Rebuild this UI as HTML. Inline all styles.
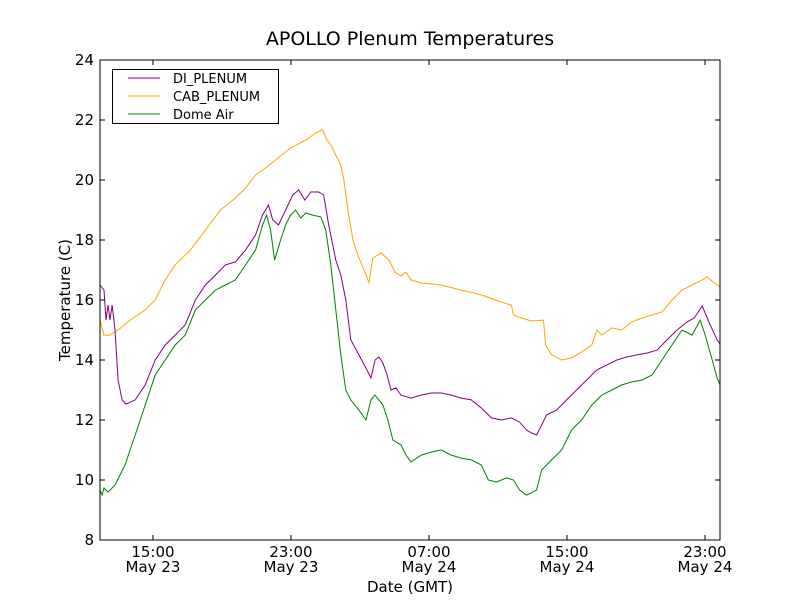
<!DOCTYPE html>
<html><head><meta charset="utf-8"><style>
html,body{margin:0;padding:0;background:#fff;}
svg text{font-family:"DejaVu Sans","Liberation Sans",sans-serif;fill:#000;}
</style></head><body>
<svg id="chart" width="800" height="600" xmlns="http://www.w3.org/2000/svg">
<rect width="800" height="600" fill="#fff"/>
<text x="410" y="45" font-size="19" text-anchor="middle">APOLLO Plenum Temperatures</text>
<text x="410" y="592" font-size="15" text-anchor="middle">Date (GMT)</text>
<text transform="translate(70,300) rotate(-90)" font-size="15" text-anchor="middle">Temperature (C)</text>
<g id="plot"></g>
<g id="legend">
<rect x="112.5" y="69.5" width="166" height="54" fill="#fff" stroke="#000" stroke-width="1"/>
<line x1="128" y1="78" x2="160" y2="78" stroke="#800080" stroke-width="1"/>
<text x="173" y="83" font-size="13">DI_PLENUM</text>
<line x1="128" y1="96" x2="160" y2="96" stroke="#ffa500" stroke-width="1"/>
<text x="173" y="101" font-size="13">CAB_PLENUM</text>
<line x1="128" y1="114" x2="160" y2="114" stroke="#008000" stroke-width="1"/>
<text x="173" y="119" font-size="13">Dome Air</text>
</g>
</svg>
<script>
const xTickHours = [15, 23, 31, 39, 47];
const xTickTimes = ["15:00","23:00","07:00","15:00","23:00"];
const xTickDates = ["May 23","May 23","May 24","May 24","May 24"];
const yTicks = [8,10,12,14,16,18,20,22,24];
const timeOffset = 0.53;

const diTime = [11.40,11.63,11.75,11.87,11.98,12.10,12.27,12.45,12.68,12.91,13.44,14.02,14.60,15.18,15.76,16.34,16.93,17.51,18.09,18.67,19.25,19.84,20.42,20.82,21.17,21.41,21.75,22.16,22.57,22.92,23.27,23.62,24.08,24.37,24.66,25.07,25.36,25.65,25.94,26.41,26.82,27.11,27.34,27.57,27.80,28.04,28.27,28.56,28.85,29.43,30.02,30.60,31.18,31.76,32.34,32.92,33.51,34.09,34.67,35.25,35.72,36.12,36.41,36.71,37.00,37.29,37.87,38.45,39.03,39.61,40.20,40.78,41.36,41.94,42.52,43.10,43.69,44.27,44.85,45.43,45.84,46.31,46.77,47.17,47.47];
const diTemp = [16.5,16.33,15.33,15.83,15.33,15.83,15.0,13.33,12.67,12.53,12.67,13.17,14.0,14.5,14.83,15.17,16.0,16.5,16.83,17.17,17.27,17.67,18.17,18.83,19.17,18.67,18.5,19.0,19.5,19.67,19.33,19.6,19.6,19.5,18.5,17.33,16.83,16.0,14.67,14.17,13.73,13.4,14.0,14.1,13.9,13.5,13.0,13.07,12.83,12.73,12.83,12.9,12.9,12.83,12.73,12.67,12.4,12.07,12.0,12.07,11.93,11.67,11.57,11.5,11.83,12.17,12.33,12.67,13.0,13.33,13.67,13.83,14.0,14.1,14.17,14.23,14.33,14.67,15.0,15.27,15.4,15.8,15.17,14.67,14.43];

const cabTime = [11.40,11.63,11.98,12.45,13.15,14.02,14.60,15.18,15.76,16.64,17.51,18.38,19.25,19.84,20.42,21.00,21.58,22.45,23.33,23.91,24.31,24.55,24.78,25.07,25.36,25.54,25.77,26.06,26.41,26.76,26.99,27.22,27.69,28.15,28.50,28.85,29.14,29.43,30.02,31.18,32.34,33.51,34.67,35.25,35.37,35.83,36.41,37.11,37.23,37.58,38.16,38.74,39.32,39.91,40.20,40.49,41.07,41.65,42.23,42.81,43.40,43.98,44.56,45.14,45.72,46.31,46.60,47.00,47.47];
const cabTemp = [15.33,14.83,14.83,15.0,15.33,15.67,16.0,16.67,17.17,17.67,18.33,19.0,19.4,19.73,20.17,20.4,20.67,21.07,21.33,21.57,21.67,21.33,21.17,20.83,20.5,20.0,19.0,18.0,17.4,16.93,16.57,17.4,17.57,17.33,16.93,16.8,16.93,16.67,16.57,16.5,16.33,16.17,15.93,15.83,15.5,15.4,15.3,15.33,14.5,14.17,14.0,14.07,14.27,14.5,15.0,14.83,15.07,15.0,15.27,15.4,15.5,15.6,16.0,16.33,16.5,16.67,16.77,16.57,16.4];

const domeTime = [11.40,11.52,11.63,11.87,12.27,12.85,13.44,14.02,14.60,15.18,15.76,16.34,16.93,17.51,18.09,18.67,19.25,19.84,20.42,20.82,21.06,21.29,21.52,21.87,22.16,22.45,22.74,23.04,23.33,23.73,24.20,24.49,24.78,25.07,25.36,25.65,25.94,26.41,26.82,27.11,27.34,27.57,27.80,28.09,28.38,28.85,29.14,29.43,30.02,30.60,31.18,31.76,32.34,32.92,33.51,33.91,34.38,34.96,35.37,35.72,36.12,36.41,36.71,37.00,37.58,38.16,38.74,39.32,39.91,40.49,41.07,41.65,42.23,42.81,43.40,43.98,44.56,45.14,45.72,46.19,46.48,46.89,47.17,47.47];
const domeTemp = [9.67,9.5,9.73,9.6,9.83,10.5,11.5,12.5,13.5,14.0,14.5,14.83,15.67,16.0,16.33,16.5,16.67,17.17,17.67,18.5,18.83,18.33,17.33,18.0,18.5,18.83,19.0,18.73,18.9,18.83,18.77,18.33,17.17,15.67,14.17,13.0,12.67,12.33,12.0,12.67,12.83,12.67,12.5,12.0,11.33,11.17,10.83,10.6,10.83,10.93,11.0,10.83,10.73,10.67,10.5,10.0,9.93,10.07,10.0,9.67,9.5,9.57,9.67,10.33,10.67,11.0,11.67,12.0,12.5,12.83,13.0,13.17,13.27,13.33,13.5,14.0,14.5,15.0,14.83,15.33,14.83,14.0,13.4,13.0];

const L=100,R=720,T=60,B=540;
const xMin=11.93, xMax=47.87, yMin=8, yMax=24;
const NS="http://www.w3.org/2000/svg";
function xs(t){return L+(t-xMin)/(xMax-xMin)*(R-L);}
function ys(v){return B-(v-yMin)/(yMax-yMin)*(B-T);}
const plot=document.getElementById('plot');
function mk(tag,attrs){const e=document.createElementNS(NS,tag);for(const k in attrs)e.setAttribute(k,attrs[k]);plot.appendChild(e);return e;}

const clip=document.createElementNS(NS,'clipPath');clip.setAttribute('id','pc');
const cr=document.createElementNS(NS,'rect');cr.setAttribute('x',L);cr.setAttribute('y',T);cr.setAttribute('width',R-L);cr.setAttribute('height',B-T);
clip.appendChild(cr);plot.appendChild(clip);

function series(times,temps,color,name){
  let d='';
  for(let i=0;i<times.length;i++){d+=(i?'L':'M')+xs(times[i]+timeOffset).toFixed(1)+','+ys(temps[i]).toFixed(1);}
  const p=mk('path',{d:d,fill:'none',stroke:color,'stroke-width':1,'clip-path':'url(#pc)'});
  
  
}
series(cabTime,cabTemp,'#ffa500','cab-plenum-line');
series(diTime,diTemp,'#800080','di-plenum-line');
series(domeTime,domeTemp,'#008000','dome-air-line');

const frame=mk('rect',{x:L,y:T,width:R-L,height:B-T,fill:'none',stroke:'#000','stroke-width':1});



yTicks.forEach(v=>{
  const y=ys(v);
  mk('line',{x1:L,y1:y,x2:L+5,y2:y,stroke:'#000'});
  mk('line',{x1:R,y1:y,x2:R-5,y2:y,stroke:'#000'});
  const t=mk('text',{x:L-6,y:y+5,'font-size':15,'text-anchor':'end'});
  t.textContent=v;
  
  
});
xTickHours.forEach((h,i)=>{
  const x=xs(h);
  mk('line',{x1:x,y1:B,x2:x,y2:B-5,stroke:'#000'});
  mk('line',{x1:x,y1:T,x2:x,y2:T+5,stroke:'#000'});
  const t1=mk('text',{x:x,y:B+17,'font-size':15,'text-anchor':'middle'});
  t1.textContent=xTickTimes[i];
  
  
  const t2=mk('text',{x:x,y:B+32,'font-size':15,'text-anchor':'middle'});
  t2.textContent=xTickDates[i];
  
  
});
</script>
</body></html>
